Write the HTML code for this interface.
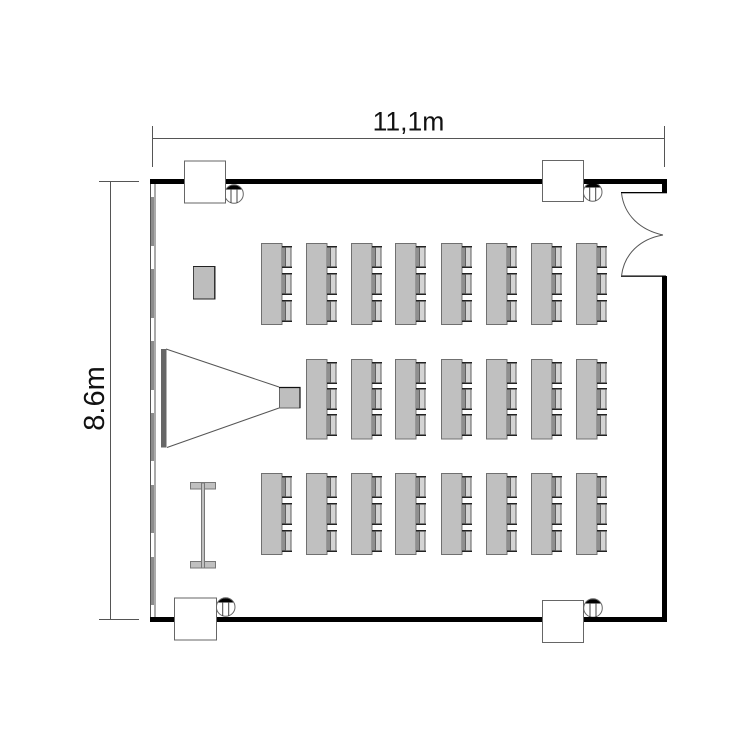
<!DOCTYPE html>
<html>
<head>
<meta charset="utf-8">
<style>
html,body{margin:0;padding:0;background:#fff}
svg{display:block}
text{font-family:"Liberation Sans",sans-serif;fill:#111}
</style>
</head>
<body>
<svg width="750" height="750" viewBox="0 0 750 750" xmlns="http://www.w3.org/2000/svg">
<defs>
  <g id="chair">
    <rect x="0" y="0" width="9.5" height="22" fill="#d4d4d4"/>
    <rect x="0" y="0" width="3" height="22" fill="#8f8f8f"/>
    <path d="M0 0.7H10M0 21.3H10" stroke="#222" stroke-width="1.5" fill="none"/>
    <path d="M3.5 1V21M9 1V21" stroke="#555" stroke-width="0.9" fill="none"/>
  </g>
  <g id="t3">
    <rect x="0.5" y="0.5" width="20.5" height="81" fill="#c0c0c0" stroke="#707070" stroke-width="1"/>
    <use href="#chair" x="21" y="3"/>
    <use href="#chair" x="21" y="30"/>
    <use href="#chair" x="21" y="57"/>
  </g>
  <g id="t3m">
    <rect x="0.5" y="0.5" width="20.5" height="79.5" fill="#c0c0c0" stroke="#707070" stroke-width="1"/>
    <use href="#chair" x="21" y="3"/>
    <use href="#chair" x="21" y="29"/>
    <use href="#chair" x="21" y="55"/>
  </g>
  <g id="col">
    <path d="M-8 -4.5A9.5 9.5 0 0 1 8 -4.5Z" fill="#000"/>
    <circle r="9.3" fill="none" stroke="#666" stroke-width="1"/>
    <path d="M-3 -5V9M3 -5V9" stroke="#444" stroke-width="1"/>
  </g>
</defs>

<!-- dimensions -->
<g stroke="#555" stroke-width="1" fill="none">
  <path d="M152.5 138.5H664.5"/>
  <path d="M152.5 126V167M664.5 126V167"/>
  <path d="M110.5 181V619"/>
  <path d="M99 181.5H139M99 619.5H139"/>
</g>
<text x="408.5" y="130.5" font-size="26.5" text-anchor="middle">11,1m</text>
<text transform="translate(104,398.5) rotate(-90)" font-size="29" text-anchor="middle">8.6m</text>

<!-- window wall -->
<rect x="150.5" y="181" width="4.5" height="438" fill="#fff" stroke="#555" stroke-width="1"/>
<g fill="#8c8c8c">
  <rect x="151" y="197" width="3" height="49"/>
  <rect x="151" y="269" width="3" height="49"/>
  <rect x="151" y="341" width="3" height="49"/>
  <rect x="151" y="413" width="3" height="48"/>
  <rect x="151" y="485" width="3" height="48"/>
  <rect x="151" y="557" width="3" height="48"/>
</g>

<!-- columns (circles) -->
<use href="#col" x="234" y="194"/>
<use href="#col" x="592.7" y="192"/>
<use href="#col" x="225.7" y="607"/>
<use href="#col" x="593" y="608"/>

<!-- walls -->
<g fill="#000">
  <rect x="150" y="179" width="516" height="5"/>
  <rect x="662" y="179" width="5" height="14"/>
  <rect x="621" y="192" width="46" height="1.3"/>
  <rect x="621" y="275.5" width="45" height="1.3"/>
  <rect x="662" y="276" width="5" height="346"/>
  <rect x="150" y="617" width="517" height="5"/>
</g>

<!-- door -->
<g stroke="#555" stroke-width="1" fill="none">
  <path d="M621.5 193C624 215 640 230 663 235"/>
  <path d="M621.5 276C624 254 640 239 663 235"/>
</g>

<!-- pillars -->
<g fill="#fff" stroke="#666" stroke-width="1">
  <rect x="184.5" y="161" width="41" height="42"/>
  <rect x="542.5" y="160.5" width="41" height="41"/>
  <rect x="174.5" y="598" width="42" height="42"/>
  <rect x="542.5" y="600.5" width="41" height="42"/>
</g>

<!-- podium -->
<rect x="193.5" y="266.5" width="21" height="32.5" fill="#bdbdbd" stroke="#444" stroke-width="1"/>
<path d="M193 266.5H215V299H193" fill="none" stroke="#222" stroke-width="1"/>

<!-- screen and projector -->
<path d="M166 349L279 387M167 447.5L279 408" stroke="#555" stroke-width="1" fill="none"/>
<rect x="161" y="349" width="5.5" height="98.5" fill="#666"/>
<rect x="279.5" y="387.5" width="20.5" height="20.5" fill="#bebebe" stroke="#666" stroke-width="1"/>
<path d="M279 387.5H300V408" stroke="#111" stroke-width="1.2" fill="none"/>

<!-- I table -->
<g fill="#c0c0c0" stroke="#777" stroke-width="1">
  <rect x="190.5" y="482.5" width="25" height="6.5"/>
  <rect x="190.5" y="561.5" width="25" height="6.5"/>
  <rect x="201.5" y="483" width="3" height="85"/>
</g>

<!-- tables row 1 -->
<use href="#t3" x="261" y="243"/>
<use href="#t3" x="306" y="243"/>
<use href="#t3" x="351" y="243"/>
<use href="#t3" x="395" y="243"/>
<use href="#t3" x="441" y="243"/>
<use href="#t3" x="486" y="243"/>
<use href="#t3" x="531" y="243"/>
<use href="#t3" x="576" y="243"/>
<!-- row 2 -->
<use href="#t3m" x="306" y="359"/>
<use href="#t3m" x="351" y="359"/>
<use href="#t3m" x="395" y="359"/>
<use href="#t3m" x="441" y="359"/>
<use href="#t3m" x="486" y="359"/>
<use href="#t3m" x="531" y="359"/>
<use href="#t3m" x="576" y="359"/>
<!-- row 3 -->
<use href="#t3" x="261" y="473"/>
<use href="#t3" x="306" y="473"/>
<use href="#t3" x="351" y="473"/>
<use href="#t3" x="395" y="473"/>
<use href="#t3" x="441" y="473"/>
<use href="#t3" x="486" y="473"/>
<use href="#t3" x="531" y="473"/>
<use href="#t3" x="576" y="473"/>
</svg>
</body>
</html>
